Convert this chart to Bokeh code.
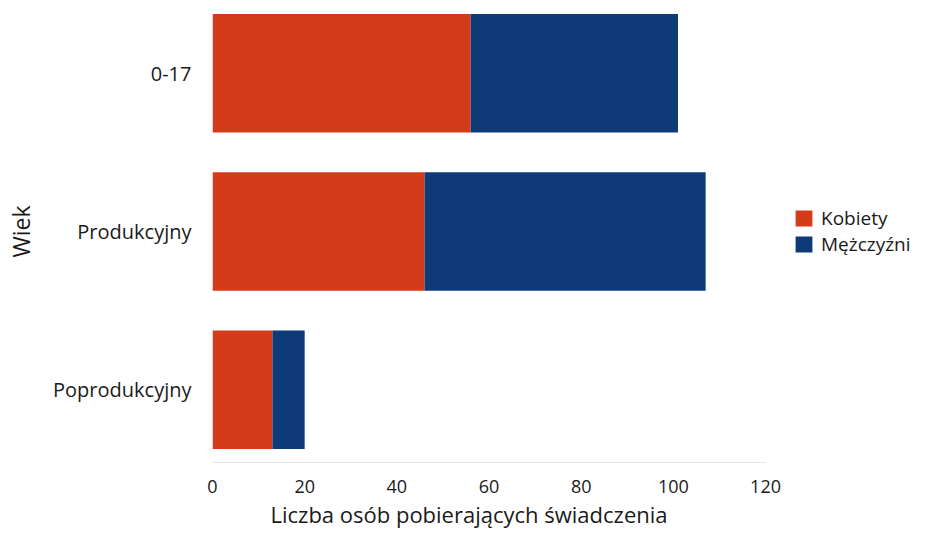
from bokeh.plotting import figure
from bokeh.models import FactorRange, Range1d, Legend, LegendItem, ColumnDataSource, Title
from bokeh.embed import file_html
from bokeh.resources import INLINE

categories = ["0-17", "Produkcyjny", "Poprodukcyjny"]
kobiety = [56, 46, 13]
mezczyzni = [45, 61, 7]
series_names = ["Kobiety", "Mężczyźni"]
colors = ["#d33b1b", "#0e3b78"]
x_ticks = [0, 20, 40, 60, 80, 100, 120]
x_label = "Liczba osób pobierających świadczenia"
y_label = "Wiek"

factors = list(reversed(categories))
src = ColumnDataSource(dict(
    cat=categories,
    k_end=kobiety,
    m_end=[a + b for a, b in zip(kobiety, mezczyzni)],
    zero=[0] * len(categories),
))

FONT = "Open Sans"
TXT = "#1a1a1a"

# frame spans to the right page edge so the legend sits inside it;
# the axis itself is bounded to 0..120
p = figure(
    width=913, height=529,
    y_range=FactorRange(factors=factors, range_padding=-0.04, range_padding_units="absolute"),
    x_range=Range1d(0, 152.1),
    output_backend="svg", toolbar_location=None,
    min_border_left=212, min_border_right=0, min_border_top=0, min_border_bottom=0,
)

r1 = p.hbar(y="cat", left="zero", right="k_end", height=0.75, source=src,
            fill_color=colors[0], line_color=None)
r2 = p.hbar(y="cat", left="k_end", right="m_end", height=0.75, source=src,
            fill_color=colors[1], line_color=None)

p.outline_line_color = None
p.xgrid.grid_line_color = None
p.ygrid.grid_line_color = None

p.xaxis.ticker = x_ticks
p.xaxis.bounds = (0, 120)
p.xaxis.axis_line_color = "#e4e4e4"
p.xaxis.major_tick_line_color = None
p.xaxis.minor_tick_line_color = None
p.xaxis.major_label_text_font = FONT
p.xaxis.major_label_text_font_size = "18px"
p.xaxis.major_label_text_color = TXT
p.xaxis.major_label_standoff = 11

xt = Title(text=x_label, align="left", offset=58, standoff=2,
           text_font=FONT, text_font_size="22px", text_font_style="normal",
           text_color=TXT)
p.add_layout(xt, "below")

p.yaxis.axis_line_color = None
p.yaxis.major_tick_line_color = None
p.yaxis.minor_tick_line_color = None
p.yaxis.major_label_text_font = FONT
p.yaxis.major_label_text_font_size = "20px"
p.yaxis.major_label_text_color = TXT
p.yaxis.major_label_standoff = 15
p.yaxis.axis_label = y_label
p.yaxis.axis_label_text_font = FONT
p.yaxis.axis_label_text_font_size = "23px"
p.yaxis.axis_label_text_font_style = "normal"
p.yaxis.axis_label_text_color = TXT
p.yaxis.axis_label_standoff = 13

legend = Legend(
    items=[LegendItem(label=series_names[0], renderers=[r1]),
           LegendItem(label=series_names[1], renderers=[r2])],
    location=(581, 205),
    orientation="vertical",
    padding=0, margin=0, spacing=0,
    glyph_width=21, glyph_height=20, label_height=20,
    label_standoff=7,
    label_text_font=FONT, label_text_font_size="19px", label_text_color=TXT,
    background_fill_alpha=0, border_line_color=None,
)
p.add_layout(legend, "center")

open("out.html", "w").write(file_html(p, INLINE))
